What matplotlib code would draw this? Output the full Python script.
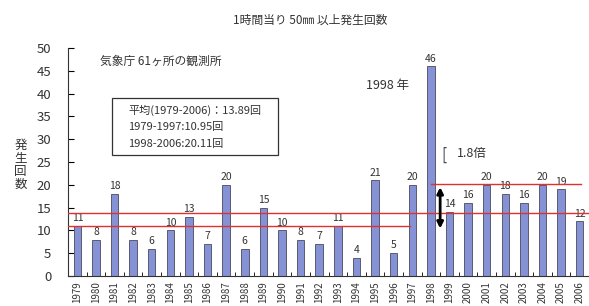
import matplotlib.pyplot as plt
from matplotlib.patches import Rectangle

plt.rcParams['font.family'] = ['Noto Sans CJK JP', 'DejaVu Sans']

# データ
years = [str(y) for y in range(1979, 2007)]
counts = [11, 8, 18, 8, 6, 10, 13, 7, 20, 6, 15, 10, 8, 7, 11, 4, 21, 5, 20,
          46, 14, 16, 20, 18, 16, 20, 19, 12]
mean_all = 13.89
mean_early = 10.95
mean_late = 20.11
y_ticks = [0, 5, 10, 15, 20, 25, 30, 35, 40, 45, 50]

fig = plt.figure(figsize=(5.89, 3.06), dpi=100)
ax = fig.add_axes([0.1155, 0.098, 1 - 0.1155, 0.745])

x = list(range(len(years)))
ax.bar(x, counts, width=0.4, color='#8593d6', edgecolor='#4a4a5a', linewidth=0.6, zorder=2)

# 棒の上の数値
for xi, v in zip(x, counts):
    ax.text(xi, v + 0.6, str(v), ha='center', va='bottom', fontsize=7.5,
            color='#333333')

# 平均線
ax.plot([-0.5, 27.5], [mean_all, mean_all], color='#e03030', lw=1, zorder=3)
ax.plot([-0.5, 17.9], [mean_early, mean_early], color='#e03030', lw=1, zorder=3)
ax.plot([19.0, 27.05], [mean_late, mean_late], color='#e03030', lw=1, zorder=3)

# 矢印
ax.annotate('', xy=(19.5, 9.8), xytext=(19.5, 20.1),
            arrowprops=dict(arrowstyle='<|-|>', color='black', lw=2,
                            mutation_scale=9), zorder=4)
ax.text(19.55, 26.5, '[', fontsize=11, va='center', ha='left', color='#444444')
ax.text(20.4, 26.8, '1.8倍', fontsize=9, va='center', ha='left', color='#333333')

ax.text(15.5, 41.7, '1998 年', fontsize=9, va='center', ha='left', color='#333333')
ax.text(1.23, 47.2, '気象庁 61ヶ所の観測所', fontsize=8.5, va='center', ha='left',
        color='#333333')

# 枠
ax.add_patch(Rectangle((1.87, 26.5), 8.9, 12.5, fill=False, edgecolor='#333333',
                       lw=0.9, zorder=5))
box_lines = ['平均(1979-2006)：13.89回', '1979-1997:10.95回', '1998-2006:20.11回']
for i, s in enumerate(box_lines):
    ax.text(2.73, 36.4 - i * 3.75, s, fontsize=8, va='center', ha='left', color='#333333')

fig.text(0.527, 0.935, '1時間当り 50㎜ 以上発生回数', ha='center', va='center',
         fontsize=8.5, color='#333333')
fig.text(0.035, 0.46, '\n'.join('発生回数'), ha='center', va='center',
         fontsize=9, color='#333333', linespacing=1.0)

ax.set_xlim(-0.5, 27.43)
ax.set_ylim(0, 50)
ax.set_yticks(y_ticks)
ax.set_yticklabels([str(t) for t in y_ticks], fontsize=9.5, color='#333333')
ax.tick_params(axis='y', direction='in', length=4, pad=12)
ax.set_xticks(x)
ax.set_xticklabels(years, rotation=90, fontsize=7, color='#333333')
ax.set_xticks([i + 0.5 for i in x], minor=True)
ax.tick_params(axis='x', which='major', length=0, pad=4)
ax.tick_params(axis='x', which='minor', direction='in', length=3)
for s in ['top', 'right']:
    ax.spines[s].set_visible(False)
ax.spines['left'].set_color('#333333')
ax.spines['bottom'].set_color('#333333')

fig.savefig('out.png', dpi=100)
